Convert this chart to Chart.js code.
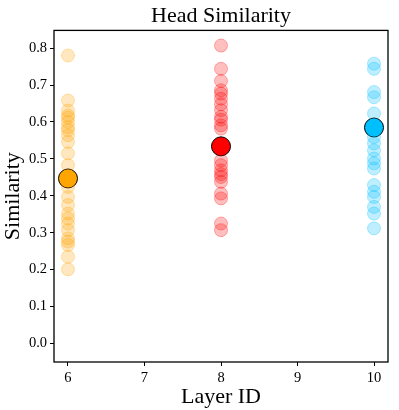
<!DOCTYPE html>
<html>
<head>
<meta charset="utf-8">
<script src="https://cdn.jsdelivr.net/npm/chart.js@4.4.1/dist/chart.umd.min.js"></script>
<style>
  html, body { margin: 0; padding: 0; background: #fff; }
  #wrap { width: 399px; height: 410px; }
</style>
</head>
<body>
<div id="wrap"><canvas id="chart" width="399" height="410"></canvas></div>
<script>
const layers = [6, 8, 10];
const layer6 = [0.780, 0.658, 0.631, 0.618, 0.612, 0.600, 0.586, 0.578, 0.564, 0.546, 0.515, 0.483, 0.424, 0.397, 0.375, 0.352, 0.339, 0.325, 0.307, 0.285, 0.276, 0.267, 0.235, 0.201];
const layer8 = [0.807, 0.744, 0.711, 0.686, 0.677, 0.663, 0.648, 0.632, 0.614, 0.606, 0.591, 0.582, 0.496, 0.483, 0.469, 0.459, 0.451, 0.438, 0.406, 0.393, 0.325, 0.307];
const layer10 = [0.758, 0.744, 0.681, 0.667, 0.623, 0.559, 0.542, 0.523, 0.501, 0.488, 0.474, 0.429, 0.411, 0.397, 0.370, 0.352, 0.312];
const means = [0.447, 0.534, 0.585];
const colors = ['255,165,0', '255,0,0', '0,191,255'];
const xTicks = [6, 7, 8, 9, 10];
const yTicks = [0.0, 0.1, 0.2, 0.3, 0.4, 0.5, 0.6, 0.7, 0.8];
const titleText = 'Head Similarity';

const serif = "'Liberation Serif', 'DejaVu Serif', serif";
const groups = [layer6, layer8, layer10];

let datasets = [];
groups.forEach((vals, i) => {
  datasets.push({
    data: vals.map(v => ({x: layers[i], y: v})),
    backgroundColor: 'rgba(' + colors[i] + ',0.25)',
    borderColor: 'rgba(' + colors[i] + ',0.3)',
    borderWidth: 1,
    pointRadius: 6.5,
    pointHoverRadius: 6.5
  });
});
means.forEach((m, i) => {
  datasets.push({
    data: [{x: layers[i], y: m}],
    backgroundColor: 'rgb(' + colors[i] + ')',
    borderColor: '#000',
    borderWidth: 1,
    pointRadius: 9.5,
    pointHoverRadius: 9.5
  });
});

// box round the plot + title centred over the plot area (like matplotlib)
const frame = {
  id: 'frame',
  afterDatasetsDraw(chart) {
    const a = chart.chartArea;
    const c = chart.ctx;
    c.save();
    c.strokeStyle = '#000';
    c.lineWidth = 1.3;
    c.strokeRect(a.left, a.top, a.right - a.left, a.bottom - a.top);
    c.fillStyle = '#000';
    c.font = '22px ' + serif;
    c.textAlign = 'center';
    c.textBaseline = 'middle';
    c.fillText(titleText, (a.left + a.right) / 2, a.top / 2 + 1);
    c.restore();
  }
};

const ctx = document.getElementById('chart').getContext('2d');
const chart = new Chart(ctx, {
  type: 'scatter',
  data: { datasets: datasets },
  options: {
    responsive: false,
    animation: false,
    events: [],
    layout: { padding: { left: 0, right: 11, top: 0, bottom: 0 } },
    plugins: {
      legend: { display: false },
      tooltip: { enabled: false },
      title: {
        display: true,
        text: ' ',
        color: 'rgba(0,0,0,0)',
        font: { family: serif, size: 22, weight: 'normal' },
        padding: { top: 2, bottom: 2 }
      }
    },
    scales: {
      x: {
        type: 'linear',
        min: 5.817,
        max: 10.183,
        afterBuildTicks: s => { s.ticks = xTicks.map(v => ({value: v})); },
        afterFit: s => { s.height = 48; },
        grid: { drawOnChartArea: false, tickLength: 4, color: '#000', tickWidth: 1 },
        border: { display: false },
        ticks: { color: '#000', padding: 3, font: { family: serif, size: 14.5 }, maxRotation: 0 },
        title: { display: true, text: 'Layer ID', color: '#000', padding: { top: 0, bottom: 0 }, font: { family: serif, size: 22 } }
      },
      y: {
        type: 'linear',
        min: -0.05,
        max: 0.848,
        afterBuildTicks: s => { s.ticks = yTicks.map(v => ({value: v})); },
        afterFit: s => { s.width = 54; },
        grid: { drawOnChartArea: false, tickLength: 4, color: '#000', tickWidth: 1 },
        border: { display: false },
        ticks: { color: '#000', padding: 3, font: { family: serif, size: 14.5 }, callback: v => v.toFixed(1) },
        title: { display: true, text: 'Similarity', color: '#000', padding: { top: 0, bottom: 0 }, font: { family: serif, size: 22 } }
      }
    }
  },
  plugins: [frame]
});
</script>
</body>
</html>
